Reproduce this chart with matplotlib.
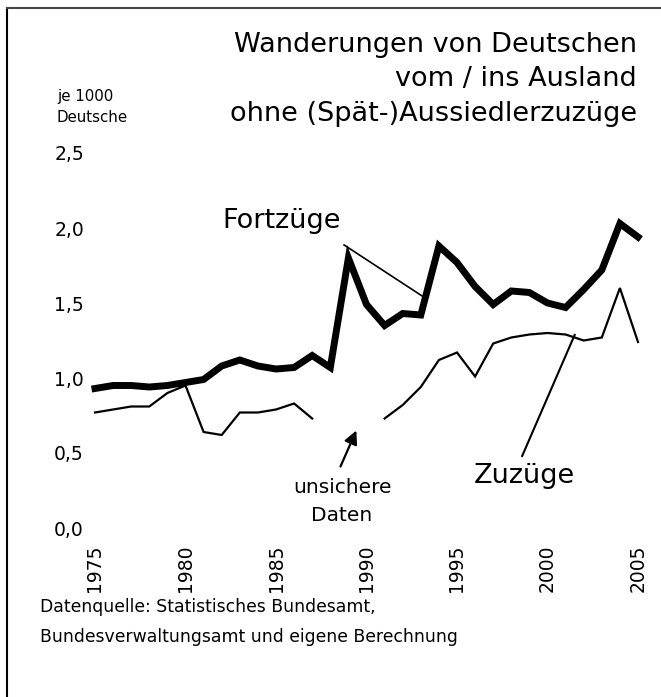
import matplotlib
matplotlib.use("Agg")
import matplotlib.pyplot as plt
import numpy as np
from matplotlib.ticker import FuncFormatter
from matplotlib.lines import Line2D

plt.rcParams['font.family'] = ['DejaVu Sans']

years = list(range(1975, 2006))

# Fortzuege je 1000 Deutsche
fortzuege = [0.93, 0.95, 0.95, 0.94, 0.95, 0.97, 0.99, 1.08, 1.12, 1.08,
             1.06, 1.07, 1.15, 1.07, 1.80, 1.49, 1.35, 1.43, 1.42, 1.88,
             1.77, 1.61, 1.49, 1.58, 1.57, 1.50, 1.47, 1.59, 1.72, 2.03,
             1.94]

# Zuzuege je 1000 Deutsche (1988-1990 unsichere Daten)
zuzuege = [0.77, 0.79, 0.81, 0.81, 0.90, 0.95, 0.64, 0.62, 0.77, 0.77,
           0.79, 0.83, 0.73, None, None, None, 0.73, 0.82, 0.94, 1.12,
           1.17, 1.01, 1.23, 1.27, 1.29, 1.30, 1.29, 1.25, 1.27, 1.60,
           1.24]

yticks = [0.0, 0.5, 1.0, 1.5, 2.0, 2.5]
xticks = [1975, 1980, 1985, 1990, 1995, 2000, 2005]

W, H = 661, 697
fig = plt.figure(figsize=(W / 100, H / 100), dpi=100)

# axes placed in pixel terms
x0, x1 = 95, 638
y0, y1 = 528, 153
ax = fig.add_axes([x0 / W, (H - y0) / H, (x1 - x0) / W, (y0 - y1) / H])

zz = np.array([np.nan if v is None else v for v in zuzuege], dtype=float)
ax.plot(years, zz, color='black', lw=1.6, clip_on=False, solid_joinstyle='miter')
ax.plot(years, fortzuege, color='black', lw=5, clip_on=False, solid_joinstyle='miter')

ax.set_xlim(1975, 2005)
ax.set_ylim(0, 2.5)
ax.set_xticks(xticks)
ax.set_yticks(yticks)
ax.yaxis.set_major_formatter(FuncFormatter(lambda v, p: f"{v:.1f}".replace('.', ',')))
ax.tick_params(axis='both', length=0, labelsize=13.5)
ax.tick_params(axis='x', rotation=90, pad=12)
ax.tick_params(axis='y', pad=8)
for s in ax.spines.values():
    s.set_visible(False)

# annotations
ax.text(1985.3, 2.05, "Fortzüge", fontsize=19.5, ha='center', va='center')
ax.add_line(Line2D([1988.76, 1993.07], [1.887, 1.547], color='black', lw=1.2, clip_on=False))

ax.text(1998.7, 0.345, "Zuzüge", fontsize=19.5, ha='center', va='center')
ax.add_line(Line2D([1998.6, 2001.5], [0.48, 1.287], color='black', lw=1.5, clip_on=False))

ax.annotate("", xy=(1989.5, 0.667), xytext=(1988.5, 0.393),
            arrowprops=dict(arrowstyle='-|>', color='black', lw=1.6, mutation_scale=20),
            annotation_clip=False)
ax.text(1988.65, 0.27, "unsichere", fontsize=14.5, ha='center', va='center')
ax.text(1988.65, 0.085, "Daten", fontsize=14.5, ha='center', va='center')

# titles
title_lines = ["Wanderungen von Deutschen", "vom / ins Ausland", "ohne (Spät-)Aussiedlerzuzüge"]
for i, t in enumerate(title_lines):
    fig.text(637 / W, 1 - (45 + 34.5 * i) / H, t, fontsize=19.5, ha='right', va='center')

fig.text(57 / W, 1 - 97 / H, "je 1000", fontsize=10.8, ha='left', va='center')
fig.text(57 / W, 1 - 118 / H, "Deutsche", fontsize=10.8, ha='left', va='center')

fig.text(40 / W, 1 - 607 / H, "Datenquelle: Statistisches Bundesamt,", fontsize=12.4, ha='left', va='center')
fig.text(40 / W, 1 - 637 / H, "Bundesverwaltungsamt und eigene Berechnung", fontsize=12.4, ha='left', va='center')

# frame (top and left edge)
fig.add_artist(Line2D([7 / W, 7 / W], [0, 1 - 8 / H], color='black', lw=1.5, transform=fig.transFigure))
fig.add_artist(Line2D([7 / W, 1], [1 - 8 / H, 1 - 8 / H], color='#444444', lw=1.5, transform=fig.transFigure))

fig.savefig("out.png", dpi=100)
